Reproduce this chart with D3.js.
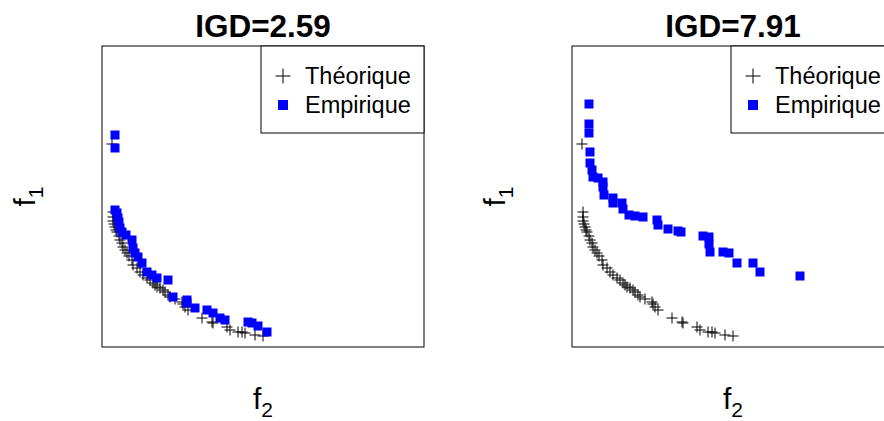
<!DOCTYPE html>
<html><head><meta charset="utf-8">
<script src="https://cdn.jsdelivr.net/npm/d3@7"></script>
<style>html,body{margin:0;padding:0;background:#fff;overflow:hidden}svg{display:block}</style>
</head><body>
<script>
// Data (arbitrary units: f2 horizontal, f1 vertical)
const panelTitles = ["IGD=2.59", "IGD=7.91"];
const legendLabels = ["Théorique", "Empirique"];
const theoF2 = [1.0,1.1,1.1,1.1,1.2,1.3,1.4,1.5,1.7,1.8,2.0,2.1,2.3,2.5,2.7,3.0,3.1,3.5,3.8,4.1,4.5,4.8,5.1,5.3,5.5,5.8,6.1,6.3,6.6,6.8,7.3,8.0,8.1,8.3,8.6,10.0,11.0,11.1,12.5,12.8,13.6,14.0,14.3,15.3,16.1];
const theoF1 = [20.3,13.5,13.0,12.6,12.3,12.0,11.7,11.5,11.1,10.7,10.4,10.0,9.7,9.4,9.1,8.7,8.2,7.9,7.5,7.2,6.9,6.7,6.4,6.2,6.0,5.9,5.7,5.5,5.2,5.0,4.8,4.5,4.3,4.0,3.7,2.9,2.5,2.4,2.0,1.7,1.5,1.5,1.4,1.2,1.1];
const empAF2 = [1.3,1.3,1.3,1.5,1.6,1.7,1.8,2.0,2.4,3.0,3.1,3.3,3.6,4.0,4.5,5.0,5.5,6.6,7.1,8.5,8.5,9.3,10.5,11.1,11.8,12.3,14.6,15.0,15.6,16.5];
const empAF1 = [21.2,19.9,13.7,13.4,12.9,12.5,11.9,11.5,11.2,10.7,9.9,9.4,9.0,8.4,7.5,7.2,6.9,6.7,5.0,4.7,4.4,3.9,3.7,3.4,2.9,2.7,2.5,2.4,2.1,1.5];
const empBF2 = [1.7,1.7,1.7,1.8,1.8,2.0,2.1,2.6,3.1,3.1,3.2,4.1,4.1,5.0,5.1,5.7,6.3,7.1,8.5,8.6,9.6,10.6,10.9,13.1,13.7,13.7,13.8,15.1,15.7,16.5,18.1,18.8,22.8];
const empBF1 = [24.3,22.3,21.4,19.5,18.4,17.7,17.0,16.9,16.5,16.0,15.2,14.9,14.4,14.4,13.8,13.2,13.1,13.0,12.7,12.2,11.8,11.6,11.5,11.1,11.0,10.3,9.5,9.5,9.4,8.4,8.4,7.5,7.1];
const xDomain = [0, 32.2];
const yDomain = [0, 30.1];

const W = 884, H = 421;
const svg = d3.select("body").append("svg").attr("width", W).attr("height", H);
const font = "'Liberation Sans', Arial, sans-serif";

const panels = [
  {left: 102, emp: [empAF2, empAF1], title: panelTitles[0]},
  {left: 572, emp: [empBF2, empBF1], title: panelTitles[1]}
];
const pTop = 46, pBottom = 347, pw = 322;

panels.forEach(p => {
  const g = svg.append("g");
  const x = d3.scaleLinear().domain(xDomain).range([p.left, p.left + pw]);
  const y = d3.scaleLinear().domain(yDomain).range([pBottom, pTop]);

  // theoretical crosses
  const th = theoF2.map((v, i) => [v, theoF1[i]]);
  const cs = 5.5;
  g.append("g").selectAll("path").data(th).join("path")
    .attr("d", d => {
      const cx = x(d[0]), cy = y(d[1]);
      return `M${cx - cs},${cy}H${cx + cs}M${cx},${cy - cs}V${cy + cs}`;
    })
    .attr("stroke", "#000").attr("stroke-width", 1).attr("fill", "none");

  // empirical squares
  const em = p.emp[0].map((v, i) => [v, p.emp[1][i]]);
  const s = 9;
  g.append("g").selectAll("rect").data(em).join("rect")
    .attr("x", d => x(d[0]) - s / 2).attr("y", d => y(d[1]) - s / 2)
    .attr("width", s).attr("height", s).attr("fill", "#0000ff");

  // box
  g.append("rect").attr("x", p.left).attr("y", pTop).attr("width", pw).attr("height", pBottom - pTop)
    .attr("fill", "none").attr("stroke", "#000").attr("stroke-width", 1);

  // legend
  const lx = p.left + 159, lw = 163, lh = 87;
  g.append("rect").attr("x", lx).attr("y", pTop).attr("width", lw).attr("height", lh)
    .attr("fill", "#fff").attr("stroke", "#000").attr("stroke-width", 1);
  const ls = 7.5;
  g.append("path").attr("d", `M${lx + 22 - ls},76H${lx + 22 + ls}M${lx + 22},${76 - ls}V${76 + ls}`)
    .attr("stroke", "#000").attr("stroke-width", 1);
  g.append("rect").attr("x", lx + 22 - 5).attr("y", 105 - 5).attr("width", 10).attr("height", 10).attr("fill", "#0000ff");
  g.append("text").attr("x", lx + 44).attr("y", 84).text(legendLabels[0])
    .attr("font-family", font).attr("font-size", 23.5).attr("fill", "#000");
  g.append("text").attr("x", lx + 44).attr("y", 113).text(legendLabels[1])
    .attr("font-family", font).attr("font-size", 23.5).attr("fill", "#000");

  // title
  g.append("text").attr("x", p.left + pw / 2).attr("y", 37).attr("text-anchor", "middle")
    .attr("font-family", font).attr("font-weight", "bold").attr("font-size", 31.5).text(p.title);

  // axis labels
  const xl = g.append("text").attr("x", p.left + pw / 2).attr("y", 409).attr("text-anchor", "middle")
    .attr("font-family", font).attr("font-size", 30);
  xl.append("tspan").text("f");
  xl.append("tspan").attr("font-size", 21).attr("dy", 8).text("2");

  const yl = g.append("text").attr("transform", `translate(${p.left - 67},${(pTop + pBottom) / 2}) rotate(-90)`)
    .attr("text-anchor", "middle").attr("font-family", font).attr("font-size", 30);
  yl.append("tspan").text("f");
  yl.append("tspan").attr("font-size", 21).attr("dy", 8).text("1");
});
</script>
</body></html>
